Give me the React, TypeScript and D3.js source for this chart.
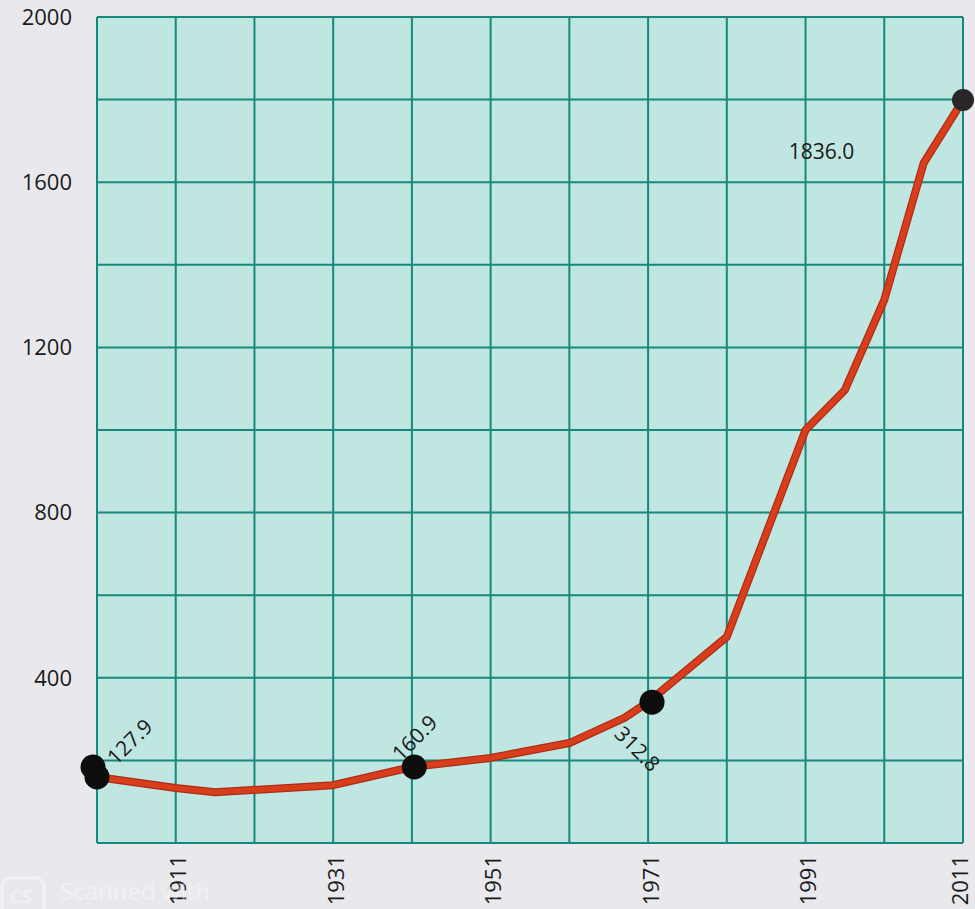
import React from "react";
import * as d3 from "d3";

const years = [1901, 1911, 1916, 1931, 1941, 1951, 1961, 1968, 1971, 1981, 1991, 1996, 2001, 2006, 2011];
const values = [160, 133, 123, 140, 184, 206, 242, 303, 341, 499, 1000, 1097, 1315, 1646, 1799];
const dotYears = [1901, 1901, 1941.3, 1971.5, 2011];
const dotValues = [184, 160, 184, 341, 1799];
const yTicks = [400, 800, 1200, 1600, 2000];
const xTicks = [1911, 1931, 1951, 1971, 1991, 2011];
const labels = ["127.9", "160.9", "312.8", "1836.0"];

const W = 975;
const H = 909;

export default function App() {
  const x = d3.scaleLinear().domain([1901, 2011]).range([97, 963]);
  const y = d3.scaleLinear().domain([0, 2000]).range([843, 17]);
  const gridX = d3.range(1901, 2012, 10);
  const gridY = d3.range(0, 2001, 200);
  const line = d3
    .line<number>()
    .x((_, i) => x(years[i]))
    .y((d) => y(d))
    .curve(d3.curveLinear);
  const font = "'Open Sans', 'Noto Sans', sans-serif";
  const dotOffsets = [-4, 0, 0, 0, 0];

  const lbl = [
    { t: labels[0], x: x(1901) + 38, y: y(184) - 20, r: -45 },
    { t: labels[1], x: x(1941) + 8, y: y(184) - 24, r: -45 },
    { t: labels[2], x: x(1971) - 16, y: y(341) + 52, r: 45 },
    { t: labels[3], x: x(1991) + 16, y: y(1650) - 3, r: 0 },
  ];

  return (
    <svg
      width={W}
      height={H}
      style={{ position: "absolute", left: 0, top: 0, background: "#e9e8ed" }}
    >
      <rect x={0} y={0} width={W} height={H} fill="#e9e8ed" />
      <rect
        x={x(1901)}
        y={y(2000)}
        width={x(2011) - x(1901)}
        height={y(0) - y(2000)}
        fill="#c0e6e2"
      />
      {gridX.map((g) => (
        <line key={"gx" + g} x1={x(g)} x2={x(g)} y1={y(0)} y2={y(2000)} stroke="#16887e" strokeWidth={2} />
      ))}
      {gridY.map((g) => (
        <line key={"gy" + g} x1={x(1901)} x2={x(2011)} y1={y(g)} y2={y(g)} stroke="#16887e" strokeWidth={2} />
      ))}
      {yTicks.map((t) => (
        <text
          key={"yt" + t}
          x={72}
          y={y(t)}
          dy="0.35em"
          textAnchor="end"
          fontFamily={font}
          fontSize={22}
          fill="#1a1a1a"
        >
          {t}
        </text>
      ))}
      {xTicks.map((t) => (
        <text
          key={"xt" + t}
          transform={`translate(${Math.min(x(t) + 3, 960)},${855}) rotate(-90)`}
          dy="0.35em"
          textAnchor="end"
          fontFamily={font}
          fontSize={22}
          fill="#1a1a1a"
        >
          {t}
        </text>
      ))}
      <path d={line(values) || ""} fill="none" stroke="#ad2c14" strokeWidth={8} strokeLinejoin="round" strokeLinecap="round" />
      <path d={line(values) || ""} fill="none" stroke="#d93e1c" strokeWidth={5.5} strokeLinejoin="round" strokeLinecap="round" />
      {dotYears.map((yr, i) => (
        <circle
          key={"d" + i}
          cx={x(yr) + dotOffsets[i]}
          cy={y(dotValues[i])}
          r={i === 4 ? 11 : 12.5}
          fill={i === 4 ? "#2a2628" : "#0d0d0d"}
        />
      ))}
      {lbl.map((l, i) => (
        <text
          key={"l" + i}
          transform={`translate(${l.x},${l.y}) rotate(${l.r})`}
          textAnchor="middle"
          fontFamily={font}
          fontSize={21}
          fill="#1a1a1a"
        >
          {l.t}
        </text>
      ))}
      <rect x={2} y={878} width={42} height={40} rx={8} fill="none" stroke="#ffffff" strokeOpacity={0.4} strokeWidth={3} />
      <text x={10} y={903} fontFamily={font} fontSize={18} fontWeight="bold" fill="#ffffff" opacity={0.4}>
        CS
      </text>
      <text x={60} y={900} fontFamily={font} fontSize={24} fill="#ffffff" opacity={0.4}>
        Scanned with
      </text>
    </svg>
  );
}
